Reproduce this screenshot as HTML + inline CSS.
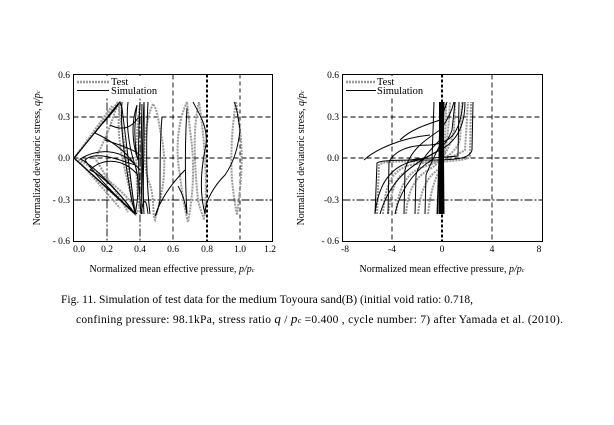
<!DOCTYPE html>
<html><head><meta charset="utf-8"><style>
body{margin:0;background:#fff;width:614px;height:425px;overflow:hidden}
svg{display:block}
text{font-family:"Liberation Serif",serif;fill:#000}
</style></head><body>
<svg width="614" height="425" viewBox="0 0 614 425">
<!-- LEFT PLOT -->
<g font-size="9.5">
<rect x="73.5" y="74.5" width="199" height="167" fill="none" stroke="#000" stroke-width="1"/>
<g stroke="#000" stroke-width="0.9" fill="none">
<line x1="73.5" y1="117" x2="272.5" y2="117" stroke-dasharray="5,3"/>
<line x1="73.5" y1="158" x2="272.5" y2="158" stroke-dasharray="5,3"/>
<line x1="73.5" y1="200" x2="272.5" y2="200" stroke-dasharray="8,2,2,2"/>
<line x1="107" y1="74.5" x2="107" y2="241.5" stroke-dasharray="8,2,2,2"/>
<line x1="140" y1="74.5" x2="140" y2="241.5" stroke-dasharray="8,2,2,2"/>
<line x1="173" y1="74.5" x2="173" y2="241.5" stroke-dasharray="5,3"/>
<line x1="207" y1="74.5" x2="207" y2="241.5" stroke-dasharray="3,2" stroke-width="2"/>
<line x1="240" y1="74.5" x2="240" y2="241.5" stroke-dasharray="4,3"/>
</g>
<g stroke="#999" stroke-width="2" fill="none" stroke-dasharray="2,1">
<path d="M74,158 L118,102 L135,214 L74,158"/>
<path d="M76,156 L112,106 M78,160 L120,208"/>
<path d="M118,102 C110,130 100,150 95,158 C105,175 118,195 128,212"/>
<path d="M120,104 C115,140 125,170 135,210"/>
<path d="M138,212 C125,190 95,170 80,160"/>
<path d="M140,212 C135,180 135,140 140,104"/>
<path d="M153,104 C145,120 140,160 150,185 C155,200 152,215 155,220 C160,200 170,170 160,130 C158,115 156,108 153,104"/>
<path d="M187,102 C178,120 175,150 180,175 C182,195 186,215 188,222 C192,200 196,170 190,130 Z"/>
<path d="M199,102 C192,130 195,170 198,200 C200,210 203,215 204,220 C208,190 205,140 199,102"/>
<path d="M236,102 C233,120 230,150 232,180 C234,200 236,210 237,215 C240,190 244,160 240,130 Z"/>
</g>
<g stroke="#000" stroke-width="1" fill="none">
<path d="M74,158 L120,102 L122,108 L135,214 L74,158"/>
<path d="M75,157 L118,104 M75,159 L134,212"/>
<path d="M120,102 C112,115 100,125 95,133 C110,140 125,150 135,165 C140,180 138,200 135,214"/>
<path d="M122,102 C120,130 125,160 130,190 C132,205 135,212 137,214"/>
<path d="M128,102 C126,120 128,145 135,165 C120,160 95,150 85,160 C95,175 120,200 135,214"/>
<path d="M135,214 C115,185 95,172 90,170 C100,160 120,155 138,175"/>
<path d="M135,214 C110,180 85,160 80,159 C95,150 120,145 140,170"/>
<path d="M110,125 C120,130 130,130 138,118"/>
<path d="M105,140 C120,145 135,150 140,155"/>
<path d="M140,102 C138,140 138,180 141,214 M142,104 C141,140 141,180 142,214"/>
<path d="M144,102 C142,140 142,180 144,214 C142,180 145,140 144,102"/>
<path d="M137,105 C132,120 131,140 138,160 C133,140 135,120 137,105"/>
<path d="M148,102 C146,140 146,180 150,214"/>
<path d="M141,214 C143,200 146,195 148,214"/>
<path d="M162,117 C160,140 160,170 160,200 C158,210 156,215 155,216 C162,195 175,180 185,170"/>
<path d="M187,108 C185,140 185,180 187,214 C184,195 180,190 178,186"/>
<path d="M193,102 C200,115 210,130 205,150 C200,175 200,195 205,214 C205,200 215,185 225,175 C232,165 238,150 240,130 C238,115 236,105 234,102"/>
</g>
<text x="70" y="78" text-anchor="end">0.6</text>
<text x="70" y="120" text-anchor="end">0.3</text>
<text x="70" y="161" text-anchor="end">0.0</text>
<text x="70" y="203" text-anchor="end">- 0.3</text>
<text x="70" y="244" text-anchor="end">- 0.6</text>
<text x="79" y="252" text-anchor="middle">0.0</text>
<text x="107" y="252" text-anchor="middle">0.2</text>
<text x="140" y="252" text-anchor="middle">0.4</text>
<text x="173" y="252" text-anchor="middle">0.6</text>
<text x="207" y="252" text-anchor="middle">0.8</text>
<text x="240" y="252" text-anchor="middle">1.0</text>
<text x="270" y="252" text-anchor="middle">1.2</text>
<text x="172" y="272" text-anchor="middle" font-size="10">Normalized mean effective pressure, <tspan font-style="italic">p/p</tspan><tspan font-size="6" font-style="italic">c</tspan></text>
<text transform="translate(40,158) rotate(-90)" text-anchor="middle" font-size="10">Normalized deviatoric stress, <tspan font-style="italic">q/p</tspan><tspan font-size="6" font-style="italic">c</tspan></text>
<rect x="76" y="76" width="72" height="22" fill="#fff"/>
<line x1="77" y1="82" x2="109" y2="82" stroke="#999" stroke-width="2.5" stroke-dasharray="2,1"/>
<line x1="77" y1="90.5" x2="109" y2="90.5" stroke="#000" stroke-width="1"/>
<text x="111" y="85" font-size="10.5">Test</text>
<text x="111" y="94" font-size="10.5">Simulation</text>
</g>

<!-- RIGHT PLOT -->
<g font-size="9.5">
<rect x="342.5" y="74.5" width="200" height="167" fill="none" stroke="#000" stroke-width="1"/>
<g stroke="#000" stroke-width="0.9" fill="none">
<line x1="342.5" y1="117" x2="542.5" y2="117" stroke-dasharray="5,3"/>
<line x1="342.5" y1="158" x2="542.5" y2="158" stroke-dasharray="5,3"/>
<line x1="342.5" y1="200" x2="542.5" y2="200" stroke-dasharray="8,2,2,2"/>
<line x1="392" y1="74.5" x2="392" y2="241.5" stroke-dasharray="5,3"/>
<line x1="442" y1="74.5" x2="442" y2="241.5" stroke-dasharray="3,2" stroke-width="2"/>
<line x1="492" y1="74.5" x2="492" y2="241.5" stroke-dasharray="5,3"/>
</g>
<g stroke="#999" stroke-width="2" fill="none" stroke-dasharray="2,1">
<path d="M377,214 L379,165 C382,161 400,161 440,162 C460,160 468,160 470,156 L471,102"/>
<path d="M383,214 C385,185 392,170 410,165 C430,162 450,160 465,150 L468,102"/>
<path d="M396,214 C398,190 405,175 420,168 C440,162 455,155 460,140 L462,102"/>
<path d="M406,214 C408,190 415,178 428,170 C440,164 450,150 454,130 L455,102"/>
<path d="M418,214 C420,195 425,180 435,172 C445,165 448,140 450,102"/>
<path d="M428,214 C430,195 434,180 440,170 C444,160 446,130 446,102"/>
<path d="M388,214 C392,190 395,178 405,172"/>
</g>
<g stroke="#000" stroke-width="1" fill="none">
<path d="M375,214 L377,163 C380,160 400,160 430,160 C460,160 470,158 472,150 L473,102"/>
<path d="M375,214 C378,185 390,168 410,162 C430,158 445,150 452,130 L455,102"/>
<path d="M388,214 L389,162 C395,150 410,145 430,145 C450,143 460,135 463,102"/>
<path d="M380,214 C390,180 410,165 440,150 C460,140 465,120 465,102"/>
<path d="M395,214 C400,190 415,170 432,160 L434,102"/>
<path d="M404,214 L405,170 C410,150 425,140 440,130 C448,120 452,110 454,102"/>
<path d="M415,214 L416,175 C420,160 430,150 440,140 L441,102"/>
<path d="M425,214 L426,175 C432,160 438,150 442,140 L444,102"/>
<path d="M400,140 C410,130 425,125 440,120 C445,110 446,105 447,102"/>
<path d="M364,160 C375,150 400,138 430,135"/>
<path d="M438,214 L440,102 M440,214 L442,102 M442,214 L444,102 M437,214 L441,102 M444,214 L443,102"/>
<path d="M410,160 C420,158 440,158 458,156 L459,102"/>
</g>
<rect x="439" y="102" width="5" height="112" fill="#000"/>
<text x="339" y="78" text-anchor="end">0.6</text>
<text x="339" y="120" text-anchor="end">0.3</text>
<text x="339" y="161" text-anchor="end">0.0</text>
<text x="339" y="203" text-anchor="end">-0.3</text>
<text x="339" y="244" text-anchor="end">- 0.6</text>
<text x="345" y="252" text-anchor="middle">-8</text>
<text x="392" y="252" text-anchor="middle">-4</text>
<text x="442" y="252" text-anchor="middle">0</text>
<text x="492" y="252" text-anchor="middle">4</text>
<text x="539" y="252" text-anchor="middle">8</text>
<text x="442" y="272" text-anchor="middle" font-size="10">Normalized mean effective pressure, <tspan font-style="italic">p/p</tspan><tspan font-size="6" font-style="italic">c</tspan></text>
<text transform="translate(304,158) rotate(-90)" text-anchor="middle" font-size="10">Normalized deviatoric stress, <tspan font-style="italic">q/p</tspan><tspan font-size="6" font-style="italic">c</tspan></text>
<rect x="345" y="76" width="72" height="22" fill="#fff"/>
<line x1="346" y1="82" x2="376" y2="82" stroke="#999" stroke-width="2.5" stroke-dasharray="2,1"/>
<line x1="346" y1="90.5" x2="376" y2="90.5" stroke="#000" stroke-width="1"/>
<text x="377" y="85" font-size="10.5">Test</text>
<text x="377" y="94" font-size="10.5">Simulation</text>
</g>

<text x="61" y="303" font-size="11.5" textLength="412" lengthAdjust="spacing">Fig. 11. Simulation  of test data for the medium  Toyoura sand(B) (initial void ratio: 0.718,</text>
<text x="76" y="323" font-size="11.5" textLength="487" lengthAdjust="spacing">confining  pressure: 98.1kPa, stress ratio  <tspan font-style="italic" font-size="13">q</tspan> / <tspan font-style="italic" font-size="13">p</tspan><tspan font-size="8" font-style="italic">c</tspan> =0.400 , cycle number:  7) after Yamada  et al. (2010).</text>
</svg>
</body></html>
